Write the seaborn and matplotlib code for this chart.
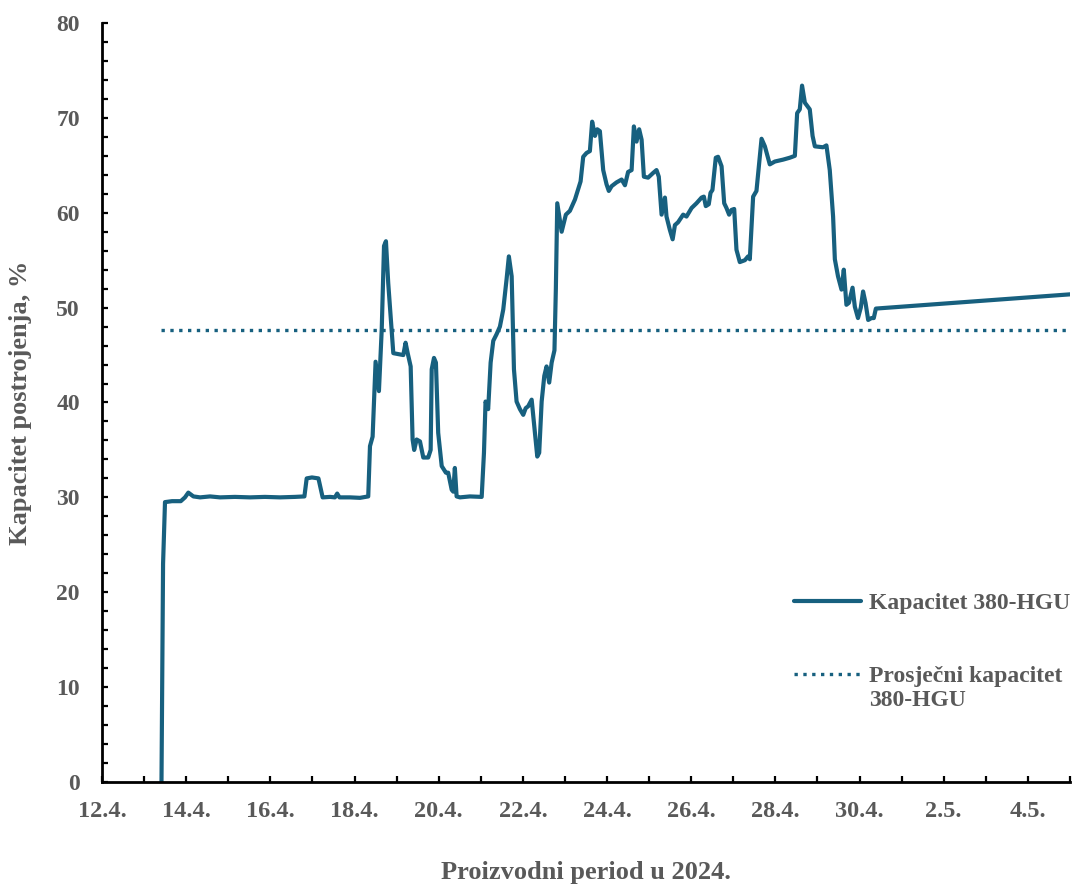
import pandas as pd
import matplotlib
matplotlib.use("Agg")
import matplotlib.pyplot as plt
import matplotlib.dates as mdates
from matplotlib.ticker import MultipleLocator, FixedLocator
from matplotlib.legend_handler import HandlerLine2D
import seaborn as sns

# sati od 12.4.2024 00:00
sati = [33.9, 34.8, 35.9, 39.9, 44.9, 47.3, 49.2, 52.1, 55.9, 61.6,
        67.3, 75.8, 84.4, 92.9, 101.5, 110.0, 115.4, 116.7, 119.7, 123.4,
        125.8, 130.0, 132.8, 134.1, 135.4, 141.4, 147.1, 151.8, 152.8, 154.3,
        156.0, 157.9, 159.5, 160.8, 161.9, 163.2, 166.1, 171.8, 173.1, 174.3,
        176.0, 177.1, 178.0, 179.4, 181.3, 183.2, 186.0, 187.4, 188.0, 189.3,
        190.4, 191.7, 193.7, 196.1, 197.4, 199.4, 200.3, 201.2, 202.2, 204.1,
        209.8, 216.5, 217.8, 218.7, 220.2, 221.6, 223.1, 225.0, 226.9, 228.8,
        230.7, 232.0, 233.6, 234.9, 236.4, 238.3, 240.2, 241.6, 243.0, 245.0,
        246.3, 248.2, 249.3, 250.7, 252.2, 253.5, 255.0, 256.4, 258.0, 258.8,
        259.6, 262.1, 264.5, 266.8, 269.7, 272.9, 274.4, 276.3, 278.2, 279.5,
        281.1, 282.4, 283.9, 285.8, 287.7, 289.0, 290.6, 293.4, 296.3, 298.2,
        300.0, 302.0, 303.3, 304.8, 306.3, 307.7, 309.0, 311.4, 314.3, 316.2,
        317.5, 319.1, 321.0, 321.9, 323.8, 325.4, 326.7, 328.5, 331.4, 333.3,
        336.2, 339.0, 341.9, 343.2, 344.3, 346.0, 347.0, 348.1, 350.0, 351.3,
        353.3, 354.8, 356.1, 357.6, 359.0, 360.5, 361.8, 363.7, 366.6, 368.4,
        369.4, 371.3, 373.2, 376.1, 378.0, 380.8, 383.7, 388.4, 392.2, 395.1,
        396.4, 397.9, 399.2, 400.8, 403.6, 405.2, 406.5, 411.2, 413.1, 415.0,
        416.9, 417.9, 419.7, 421.7, 423.0, 424.5, 425.9, 428.0, 429.3, 431.1,
        432.7, 434.0, 435.4, 436.9, 438.8, 440.1, 441.3, 552.0]

kapacitet = [0.0, 23.0, 29.5, 29.6, 29.6, 30.0, 30.5, 30.1, 30.0, 30.1,
             30.0, 30.05, 30.0, 30.05, 30.0, 30.05, 30.1, 32.0, 32.1, 32.0,
             30.0, 30.05, 30.0, 30.4, 30.0, 30.0, 29.95, 30.1, 35.4, 36.4,
             44.3, 41.2, 47.7, 56.5, 57.0, 52.6, 45.2, 45.0, 46.3, 45.2,
             43.8, 36.1, 35.0, 36.1, 35.9, 34.2, 34.2, 35.0, 43.5, 44.7,
             44.2, 36.8, 33.3, 32.6, 32.6, 30.8, 30.6, 33.1, 30.1, 30.0,
             30.1, 30.05, 34.7, 40.1, 39.3, 44.2, 46.5, 47.2, 48.0, 49.8,
             53.0, 55.4, 53.3, 43.5, 40.1, 39.3, 38.7, 39.4, 39.6, 40.3,
             37.9, 34.3, 34.7, 40.1, 42.8, 43.8, 42.1, 44.2, 45.5, 52.0,
             61.0, 58.0, 59.8, 60.2, 61.4, 63.3, 65.9, 66.3, 66.5, 69.6,
             68.1, 68.8, 68.6, 64.5, 63.0, 62.3, 62.8, 63.2, 63.5, 62.9,
             64.3, 64.5, 69.1, 67.5, 68.8, 67.7, 63.8, 63.7, 64.2, 64.5,
             63.8, 59.8, 61.6, 59.6, 58.2, 57.2, 58.7, 59.0, 59.8, 59.6,
             60.5, 61.0, 61.6, 61.7, 60.7, 60.9, 62.1, 62.4, 65.8, 65.9,
             64.9, 61.0, 60.5, 59.8, 60.3, 60.4, 56.1, 54.8, 55.0, 55.4,
             55.1, 61.7, 62.3, 67.8, 67.0, 65.1, 65.4, 65.6, 65.8, 66.0,
             70.5, 70.9, 73.4, 71.6, 70.9, 68.1, 67.0, 66.9, 67.1, 64.5,
             59.6, 55.1, 53.3, 51.9, 54.0, 50.3, 50.5, 52.1, 50.1, 48.9,
             50.0, 51.7, 50.5, 48.7, 48.9, 48.9, 49.9, 51.4]

prosjek = 47.6

oznake_x = ["12.4.", "14.4.", "16.4.", "18.4.", "20.4.", "22.4.",
            "24.4.", "26.4.", "28.4.", "30.4.", "2.5.", "4.5."]

pocetak = pd.Timestamp("2024-04-12")
kraj = pd.Timestamp("2024-05-05")

df = pd.DataFrame({"vrijeme": pocetak + pd.to_timedelta(sati, unit="h"),
                   "kapacitet": kapacitet})
df_prosjek = pd.DataFrame({"vrijeme": [df["vrijeme"].iloc[0], df["vrijeme"].iloc[-1]],
                           "kapacitet": [prosjek, prosjek]})


# oznaka u legendi uz prvi red teksta
class GornjiRed(HandlerLine2D):
    def create_artists(self, legend, orig_handle, xdescent, ydescent, width, height, fontsize, trans):
        linije = super().create_artists(legend, orig_handle, xdescent, ydescent,
                                        width, height, fontsize, trans)
        for l in linije:
            l.set_ydata([y + 0.6 * fontsize for y in l.get_ydata()])
        return linije


sns.set_style("white")
plt.rcParams["font.family"] = ["Liberation Serif", "DejaVu Serif"]
plt.rcParams["font.weight"] = "bold"

boja = "#17607f"
siva = "#595959"

fig = plt.figure(figsize=(10.73, 8.85), dpi=100)
ax = fig.add_axes([0.0951, 0.1164, 0.9021, 0.8576])

sns.lineplot(data=df, x="vrijeme", y="kapacitet", color=boja, linewidth=3.0,
             label="Kapacitet 380-HGU", ax=ax)
sns.lineplot(data=df_prosjek, x="vrijeme", y="kapacitet", color=boja, linewidth=2.4,
             linestyle=":", label="Prosječni kapacitet\n380-HGU", ax=ax)

ax.set_xlim(pocetak, kraj)
ax.set_ylim(0, 80)

major_dani = pd.date_range("2024-04-12", "2024-05-04", freq="2D")
ax.xaxis.set_major_locator(FixedLocator(mdates.date2num(major_dani)))
ax.set_xticklabels(oznake_x)
ax.xaxis.set_minor_locator(FixedLocator(mdates.date2num(pd.date_range("2024-04-12", "2024-05-05", freq="D"))))
ax.yaxis.set_major_locator(MultipleLocator(10))
ax.yaxis.set_minor_locator(MultipleLocator(2))

for s in ["top", "right"]:
    ax.spines[s].set_visible(False)
for s in ["left", "bottom"]:
    ax.spines[s].set_color("black")
    ax.spines[s].set_linewidth(2.0)

ax.tick_params(axis="both", which="both", direction="in", length=4, width=1.6,
               colors="black", labelcolor=siva, bottom=True, left=True)
ax.tick_params(axis="x", which="major", pad=14, labelsize=17.5)
ax.tick_params(axis="y", which="major", pad=16, labelsize=17)

ax.set_xlabel("Proizvodni period u 2024.", fontsize=19, fontweight="bold", color=siva)
ax.set_ylabel("Kapacitet postrojenja, %", fontsize=19, fontweight="bold", color=siva)
ax.xaxis.set_label_coords(0.5, -0.104)
ax.yaxis.set_label_coords(-0.072, 0.5)

h, l = ax.get_legend_handles_labels()
leg = ax.legend(h, l, loc="upper left", bbox_to_anchor=(0.705, 0.262), frameon=False,
                fontsize=17, handlelength=2.85, handletextpad=0.35,
                labelspacing=2.2, borderaxespad=0,
                handler_map={h[1]: GornjiRed()})
for t in leg.get_texts():
    t.set_color(siva)
    t.set_fontweight("bold")

fig.savefig("out.png", dpi=100)
